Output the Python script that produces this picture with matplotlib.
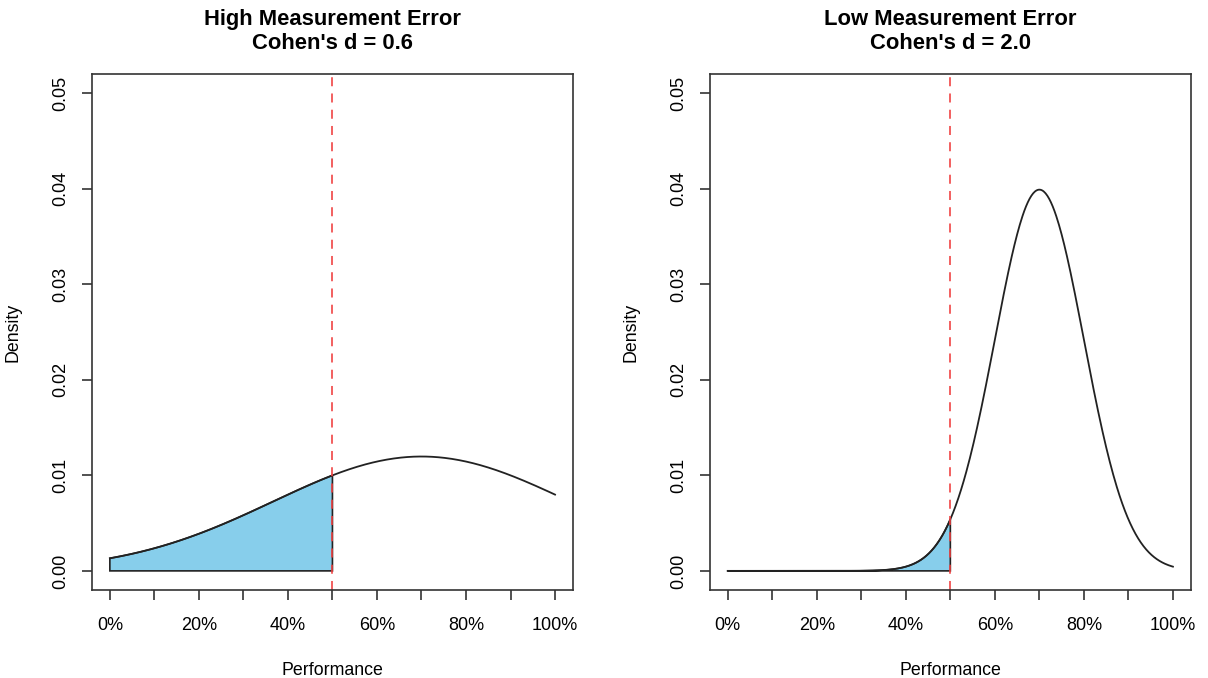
import numpy as np
import matplotlib.pyplot as plt

plt.rcParams['font.family'] = ['Liberation Sans', 'DejaVu Sans']

# chart values
panel_titles = ['High Measurement Error', 'Low Measurement Error']
cohens_d = [0.6, 2.0]
mean_perf = 70
cutoff = 50
x_ticks = list(range(0, 101, 10))
x_labels = ['0%', '', '20%', '', '40%', '', '60%', '', '80%', '', '100%']
y_ticks = [0.00, 0.01, 0.02, 0.03, 0.04, 0.05]


def dnorm(x, mu, sd):
    return np.exp(-0.5 * ((x - mu) / sd) ** 2) / (sd * np.sqrt(2 * np.pi))


fig = plt.figure(figsize=(12.08, 6.78), dpi=100)
lefts = [0.0762, 0.5877]
width = 0.398

for i, (title, d) in enumerate(zip(panel_titles, cohens_d)):
    ax = fig.add_axes([lefts[i], 0.1298, width, 0.7611])
    sd = (mean_perf - cutoff) / d
    x = np.linspace(0, 100, 501)
    y = dnorm(x, mean_perf, sd)

    # shaded area below the cutoff
    xs = x[x <= cutoff]
    ys = dnorm(xs, mean_perf, sd)
    px = np.concatenate([[0], xs, [cutoff, 0]])
    py = np.concatenate([[0], ys, [0, 0]])
    ax.fill(px, py, facecolor='#87CEEB', edgecolor='#222222', linewidth=1.2)

    ax.plot(x, y, color='#222222', linewidth=1.3)
    ax.axvline(cutoff, color='#f04040', linestyle=(0, (5, 4)), linewidth=1.3, alpha=0.9)

    ax.set_xlim(-4, 104)
    ax.set_ylim(-0.002, 0.052)
    ax.set_xticks(x_ticks)
    ax.set_xticklabels(x_labels)
    ax.set_yticks(y_ticks)
    ax.set_yticklabels([f'{v:.2f}' for v in y_ticks], rotation=90, va='center')
    ax.tick_params(axis='both', direction='out', length=7.5, width=1.2, color='#333333',
                   labelsize=13)
    ax.tick_params(axis='x', pad=12)
    ax.tick_params(axis='y', pad=9)
    for s in ax.spines.values():
        s.set_linewidth(1.2)
        s.set_color('#333333')

    ax.set_xlabel('Performance', fontsize=12.8, labelpad=20)
    ax.set_ylabel('Density', fontsize=12.8, labelpad=22)
    ax.set_title(f"{title}\nCohen's d = {d:.1f}", fontsize=15.8, fontweight='bold',
                 pad=18, linespacing=1.18)

plt.savefig('out.png', dpi=100)
